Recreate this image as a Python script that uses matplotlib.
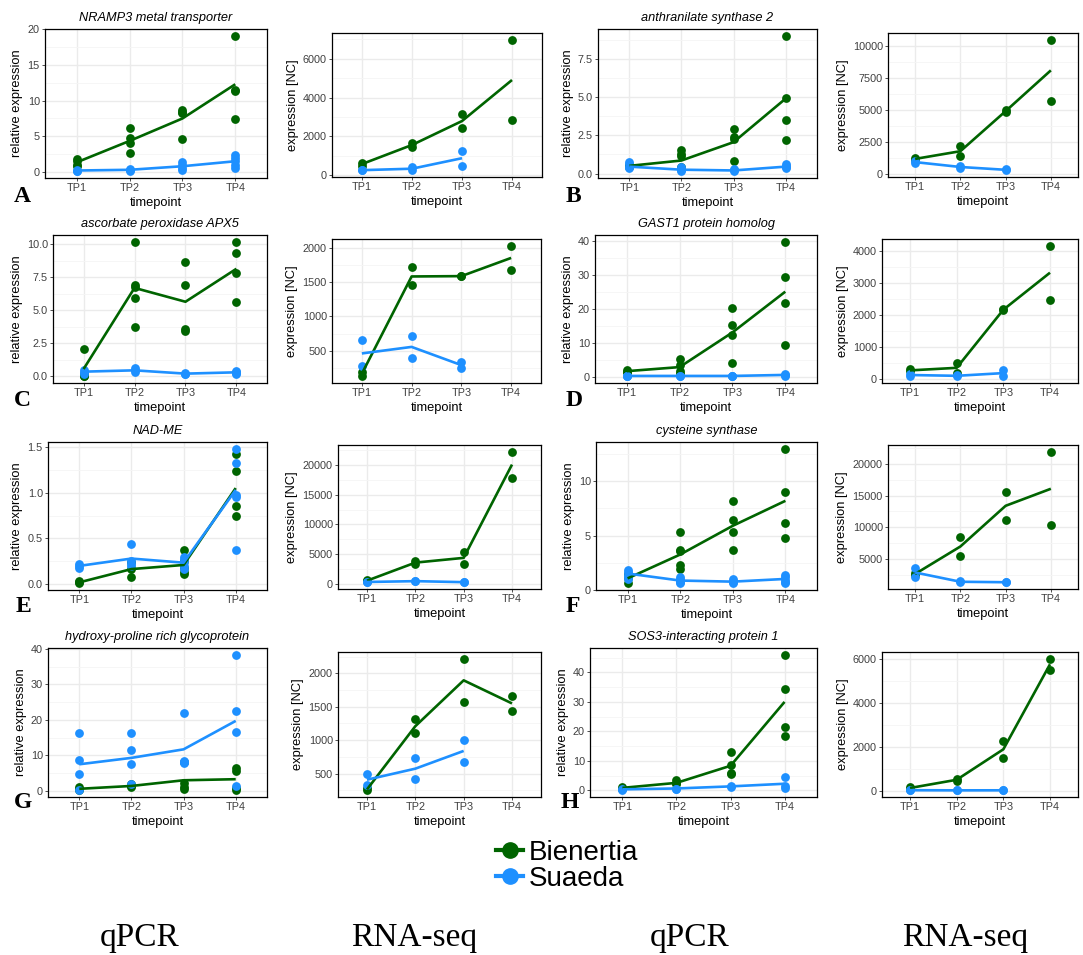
import matplotlib
matplotlib.use("Agg")
import matplotlib.pyplot as plt
from matplotlib.ticker import MultipleLocator, FuncFormatter
from matplotlib.lines import Line2D

plt.rcParams['font.family'] = ['Liberation Sans', 'DejaVu Sans']

timepoints = ["TP1", "TP2", "TP3", "TP4"]
GREEN = "#006400"
BLUE = "#1E90FF"

# ---- A: NRAMP3 metal transporter ----
a_q_bien = [[1.8, 1.5, 1.0, 0.9], [6.1, 4.7, 4.0, 2.6], [8.7, 8.4, 8.2, 4.6], [19.1, 11.5, 11.3, 7.4]]
a_q_bien_mean = [1.35, 4.35, 7.5, 12.3]
a_q_suae = [[0.3, 0.2, 0.1], [0.4, 0.3, 0.2], [1.4, 1.0, 0.5, 0.3], [2.4, 2.0, 1.5, 1.0, 0.6]]
a_q_suae_mean = [0.2, 0.3, 0.8, 1.5]
a_r_bien = [[650, 500], [1660, 1470], [3170, 2420], [6980, 2860]]
a_r_bien_mean = [580, 1560, 2790, 4900]
a_r_suae = [[280, 250], [420, 280], [1270, 500]]
a_r_suae_mean = [265, 340, 880]

# ---- B: anthranilate synthase 2 ----
b_q_bien = [[0.55, 0.5, 0.45], [1.55, 1.3, 1.15, 0.45], [2.9, 2.4, 2.25, 0.8], [9.0, 4.95, 3.5, 2.2]]
b_q_bien_mean = [0.5, 0.85, 2.05, 4.9]
b_q_suae = [[0.75, 0.6, 0.45, 0.35], [0.4, 0.3, 0.2, 0.15], [0.3, 0.2, 0.15], [0.6, 0.5, 0.4, 0.35]]
b_q_suae_mean = [0.45, 0.25, 0.2, 0.45]
b_r_bien = [[1250, 1150], [2200, 1400], [5000, 4850], [10500, 5700]]
b_r_bien_mean = [1200, 1800, 4920, 8100]
b_r_suae = [[1000, 850], [620, 520], [400, 300]]
b_r_suae_mean = [950, 570, 350]

# ---- C: ascorbate peroxidase APX5 ----
c_q_bien = [[2.1, 0.15, 0.05, 0.0], [10.2, 6.9, 6.8, 5.9, 3.75], [8.65, 6.9, 3.6, 3.45], [10.15, 9.35, 7.85, 5.6]]
c_q_bien_mean = [0.55, 6.7, 5.65, 8.15]
c_q_suae = [[0.45, 0.3, 0.2], [0.6, 0.45, 0.3], [0.25, 0.2, 0.15], [0.4, 0.3, 0.25, 0.2]]
c_q_suae_mean = [0.35, 0.45, 0.2, 0.3]
c_r_bien = [[185, 125], [1715, 1450], [1590, 1580], [2030, 1670]]
c_r_bien_mean = [165, 1580, 1585, 1850]
c_r_suae = [[650, 270], [720, 390], [330, 250]]
c_r_suae_mean = [460, 555, 290]

# ---- D: GAST1 protein homolog ----
d_q_bien = [[2.0, 1.5, 1.3], [5.3, 3.4, 1.6, 1.0], [20.2, 15.3, 12.2, 4.1], [39.7, 29.4, 21.7, 9.4]]
d_q_bien_mean = [1.6, 2.8, 13.0, 25.0]
d_q_suae = [[0.3, 0.2, 0.1], [0.3, 0.2], [0.3, 0.2, 0.1], [0.7, 0.5, 0.3]]
d_q_suae_mean = [0.2, 0.2, 0.2, 0.5]
d_r_bien = [[310, 240], [490, 200], [2190, 2160], [4180, 2490]]
d_r_bien_mean = [270, 350, 2170, 3330]
d_r_suae = [[150, 100], [120, 80], [270, 100]]
d_r_suae_mean = [125, 100, 185]

# ---- E: NAD-ME ----
e_q_bien = [[0.03, 0.02, 0.01], [0.24, 0.17, 0.08], [0.37, 0.25, 0.18, 0.13, 0.11], [1.42, 1.24, 0.85, 0.74]]
e_q_bien_mean = [0.02, 0.165, 0.21, 1.05]
e_q_suae = [[0.22, 0.2, 0.18], [0.44, 0.25, 0.22, 0.2], [0.3, 0.28, 0.24, 0.2, 0.17], [1.48, 1.32, 0.97, 0.95, 0.37]]
e_q_suae_mean = [0.2, 0.28, 0.235, 1.03]
e_r_bien = [[600, 400], [3800, 3300], [5400, 3300], [22300, 17900]]
e_r_bien_mean = [500, 3550, 4350, 20100]
e_r_suae = [[300, 250], [450, 380], [300, 200]]
e_r_suae_mean = [280, 420, 250]

# ---- F: cysteine synthase ----
f_q_bien = [[1.5, 1.1, 0.65], [5.3, 3.65, 3.55, 2.3, 1.95], [8.2, 6.45, 5.3, 3.65], [13.0, 9.05, 6.15, 4.75]]
f_q_bien_mean = [1.05, 3.25, 5.9, 8.2]
f_q_suae = [[1.8, 1.6, 1.4, 1.2, 1.0], [1.2, 1.0, 0.8, 0.7, 0.6], [0.95, 0.8, 0.7, 0.6], [1.4, 1.2, 0.9, 0.7, 0.6]]
f_q_suae_mean = [1.5, 0.85, 0.75, 1.0]
f_r_bien = [[2700, 2400], [8500, 5450], [15600, 11200], [22000, 10300]]
f_r_bien_mean = [2600, 6950, 13400, 16100]
f_r_suae = [[3500, 2150], [1420, 1300], [1320, 1250]]
f_r_suae_mean = [2830, 1360, 1285]

# ---- G: hydroxy-proline rich glycoprotein ----
g_q_bien = [[1.0, 0.5, 0.2], [2.0, 1.5, 1.0], [8.0, 2.3, 1.2, 0.5], [6.5, 5.5, 0.8, 0.3]]
g_q_bien_mean = [0.6, 1.4, 3.0, 3.3]
g_q_suae = [[16.3, 8.7, 4.7, 0.3], [16.4, 11.4, 7.5, 2.0], [22.0, 8.3, 7.8, 8.0], [38.3, 22.5, 16.7, 1.5]]
g_q_suae_mean = [7.5, 9.3, 11.7, 19.7]
g_r_bien = [[280, 250], [1310, 1110], [2220, 1570], [1660, 1440]]
g_r_bien_mean = [265, 1210, 1895, 1550]
g_r_suae = [[490, 330], [730, 420], [1010, 670]]
g_r_suae_mean = [410, 575, 840]

# ---- H: SOS3-interacting protein 1 ----
h_q_bien = [[1.2, 0.5], [3.5, 2.5, 2.0], [13.0, 8.5, 6.0, 5.5], [46.0, 34.3, 21.5, 18.5]]
h_q_bien_mean = [0.8, 2.5, 8.3, 30.0]
h_q_suae = [[0.3, 0.0], [0.5, 0.4], [1.5, 1.0], [4.5, 1.5, 0.8]]
h_q_suae_mean = [0.3, 0.6, 1.3, 2.2]
h_r_bien = [[150, 100], [550, 450], [2270, 1500], [6030, 5500]]
h_r_bien_mean = [125, 500, 1890, 5770]
h_r_suae = [[30, 20], [20, 15], [25, 15]]
h_r_suae_mean = [25, 18, 20]

titles = ["NRAMP3 metal transporter", "anthranilate synthase 2", "ascorbate peroxidase APX5",
          "GAST1 protein homolog", "NAD-ME", "cysteine synthase",
          "hydroxy-proline rich glycoprotein", "SOS3-interacting protein 1"]
letters = ["A", "B", "C", "D", "E", "F", "G", "H"]

W, H = 1083, 955
fig = plt.figure(figsize=(W / 100, H / 100), dpi=100)


def add_ax(l, t, r, b):
    return fig.add_axes([l / W, 1 - b / H, (r - l) / W, (b - t) / H])


def draw_panel(ax, bien, bien_mean, suae, suae_mean, step, fmt, ylabel, title=None):
    for i, vals in enumerate(bien):
        ax.scatter([i] * len(vals), vals, s=40, color=GREEN, lw=0, zorder=3)
    for i, vals in enumerate(suae):
        ax.scatter([i] * len(vals), vals, s=40, color=BLUE, lw=0, zorder=3)
    ax.plot(range(len(bien_mean)), bien_mean, color=GREEN, lw=1.9, zorder=4, solid_capstyle='butt')
    ax.plot(range(len(suae_mean)), suae_mean, color=BLUE, lw=1.9, zorder=4, solid_capstyle='butt')

    allv = [v for g in bien + suae for v in g] + bien_mean + suae_mean
    lo, hi = min(allv), max(allv)
    pad = 0.05 * (hi - lo)
    ax.set_ylim(lo - pad, hi + pad)
    ax.set_xlim(-0.6, 3.6)
    ax.set_xticks(range(4))
    ax.set_xticklabels(timepoints)
    ax.yaxis.set_major_locator(MultipleLocator(step))
    ax.yaxis.set_minor_locator(MultipleLocator(step / 2))
    ax.yaxis.set_major_formatter(FuncFormatter(lambda v, p: fmt.format(v)))
    ax.grid(which='major', color='#EBEBEB', lw=1.0)
    ax.grid(which='minor', axis='y', color='#F5F5F5', lw=0.6)
    ax.set_axisbelow(True)
    ax.tick_params(which='major', labelsize=7.8, colors='#333333', labelcolor='#404040',
                   length=2.2, width=0.6, pad=1.5)
    ax.tick_params(which='minor', length=0)
    for sp in ax.spines.values():
        sp.set_color('black')
        sp.set_linewidth(0.9)
    ax.set_xlabel("timepoint", fontsize=9.3, labelpad=3)
    ax.set_ylabel(ylabel, fontsize=9.3, labelpad=3)
    if title:
        ax.set_title(title, fontsize=9.2, style='italic', pad=6)


# panel boxes in pixels: (left, top, right, bottom)
q_boxes = [(45, 29, 267, 178), (598, 29, 817, 178),
           (53, 235, 267, 383), (595, 235, 817, 383),
           (48, 442, 267, 590), (596, 442, 817, 590),
           (48, 648, 267, 797), (590, 648, 817, 797)]
r_boxes = [(332, 33, 542, 177), (888, 33, 1078, 177),
           (332, 239, 541, 383), (882, 239, 1078, 383),
           (338, 445, 541, 589), (888, 445, 1078, 589),
           (338, 652, 541, 797), (882, 652, 1078, 797)]

q_data = [(a_q_bien, a_q_bien_mean, a_q_suae, a_q_suae_mean, 5, "{:.0f}"),
          (b_q_bien, b_q_bien_mean, b_q_suae, b_q_suae_mean, 2.5, "{:.1f}"),
          (c_q_bien, c_q_bien_mean, c_q_suae, c_q_suae_mean, 2.5, "{:.1f}"),
          (d_q_bien, d_q_bien_mean, d_q_suae, d_q_suae_mean, 10, "{:.0f}"),
          (e_q_bien, e_q_bien_mean, e_q_suae, e_q_suae_mean, 0.5, "{:.1f}"),
          (f_q_bien, f_q_bien_mean, f_q_suae, f_q_suae_mean, 5, "{:.0f}"),
          (g_q_bien, g_q_bien_mean, g_q_suae, g_q_suae_mean, 10, "{:.0f}"),
          (h_q_bien, h_q_bien_mean, h_q_suae, h_q_suae_mean, 10, "{:.0f}")]
r_data = [(a_r_bien, a_r_bien_mean, a_r_suae, a_r_suae_mean, 2000, "{:.0f}"),
          (b_r_bien, b_r_bien_mean, b_r_suae, b_r_suae_mean, 2500, "{:.0f}"),
          (c_r_bien, c_r_bien_mean, c_r_suae, c_r_suae_mean, 500, "{:.0f}"),
          (d_r_bien, d_r_bien_mean, d_r_suae, d_r_suae_mean, 1000, "{:.0f}"),
          (e_r_bien, e_r_bien_mean, e_r_suae, e_r_suae_mean, 5000, "{:.0f}"),
          (f_r_bien, f_r_bien_mean, f_r_suae, f_r_suae_mean, 5000, "{:.0f}"),
          (g_r_bien, g_r_bien_mean, g_r_suae, g_r_suae_mean, 500, "{:.0f}"),
          (h_r_bien, h_r_bien_mean, h_r_suae, h_r_suae_mean, 2000, "{:.0f}")]

letter_pos = [(14, 202), (566, 202), (14, 406), (566, 406),
              (16, 612), (566, 612), (14, 808), (561, 808)]

for k in range(8):
    axq = add_ax(*q_boxes[k])
    draw_panel(axq, *q_data[k], "relative expression", titles[k])
    axr = add_ax(*r_boxes[k])
    draw_panel(axr, *r_data[k], "expression [NC]")
    lx, ly = letter_pos[k]
    fig.text(lx / W, 1 - ly / H, letters[k], fontsize=17, fontweight='bold',
             family='Liberation Serif', ha='left', va='baseline')

handles = [Line2D([], [], color=GREEN, lw=3, marker='o', markersize=11),
           Line2D([], [], color=BLUE, lw=3, marker='o', markersize=11)]
fig.legend(handles, ["Bienertia", "Suaeda"], loc='center', bbox_to_anchor=(567 / W, 1 - 866 / H),
           frameon=False, fontsize=20, handlelength=1.0, handletextpad=0.2, labelspacing=0.0,
           borderpad=0)

for x, lab in [(140, "qPCR"), (414, "RNA-seq"), (690, "qPCR"), (965, "RNA-seq")]:
    fig.text(x / W, 1 - 938 / H, lab, fontsize=24, family='Liberation Serif',
             ha='center', va='center')

fig.savefig("out.png", dpi=100)
